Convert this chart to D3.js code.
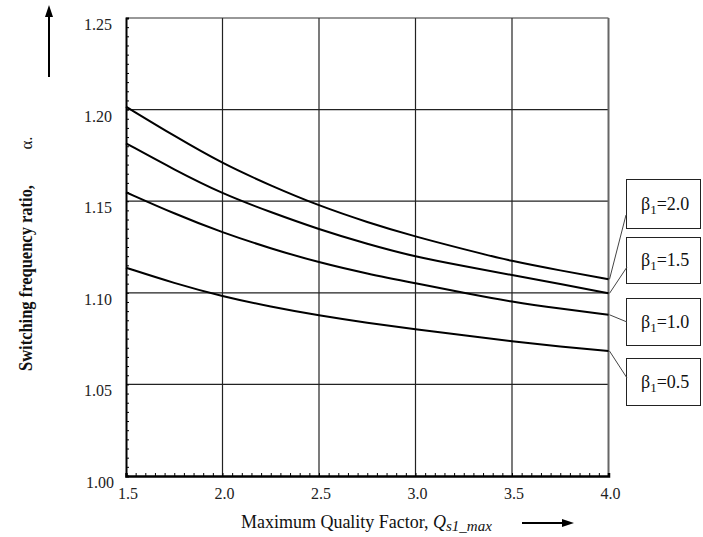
<!DOCTYPE html>
<html><head><meta charset="utf-8">
<script src="https://cdn.jsdelivr.net/npm/d3@7"></script>
<style>body{margin:0;background:#fff}svg{display:block}text{font-family:"Liberation Serif","Times New Roman",serif}</style>
</head><body>
<script>
const Q = [1.5,1.75,2.0,2.25,2.5,2.75,3.0,3.25,3.5,3.75,4.0];
const beta20 = [1.2016,1.1856,1.1705,1.1585,1.1475,1.1385,1.1306,1.1238,1.1172,1.1122,1.1074];
const beta15 = [1.1816,1.1672,1.1540,1.1440,1.1346,1.1266,1.1196,1.1146,1.1097,1.1048,1.0997];
const beta10 = [1.1549,1.1432,1.1328,1.1242,1.1165,1.1104,1.1052,1.1000,1.0950,1.0913,1.0880];
const beta05 = [1.1137,1.1052,1.0980,1.0924,1.0876,1.0836,1.0801,1.0768,1.0735,1.0707,1.0682];
const seriesLabels = ["2.0","1.5","1.0","0.5"];
const xTicks = [1.5,2.0,2.5,3.0,3.5,4.0];
const yTicks = [1.00,1.05,1.10,1.15,1.20,1.25];

const W=703,H=537;
const svg=d3.select("body").append("svg").attr("width",W).attr("height",H);
const x=d3.scaleLinear().domain([1.5,4.0]).range([126,608.5]);
const y=d3.scaleLinear().domain([1.0,1.25]).range([476,18]);

// grid
const g=svg.append("g");
g.selectAll(".gx").data(xTicks.slice(1,-1)).join("line")
 .attr("x1",d=>x(d)).attr("x2",d=>x(d)).attr("y1",y(1.25)).attr("y2",y(1.0))
 .attr("stroke","#222").attr("stroke-width",1.2);
g.selectAll(".gy").data(yTicks.slice(1,-1)).join("line")
 .attr("x1",x(1.5)).attr("x2",x(4.0)).attr("y1",d=>y(d)).attr("y2",d=>y(d))
 .attr("stroke","#222").attr("stroke-width",1.2);
// top border
svg.append("line").attr("x1",x(1.5)).attr("x2",x(4.0)).attr("y1",y(1.25)).attr("y2",y(1.25)).attr("stroke","#333").attr("stroke-width",1.2);
// right border
svg.append("line").attr("x1",x(4.0)).attr("x2",x(4.0)).attr("y1",y(1.25)).attr("y2",y(1.0)+1).attr("stroke","#666").attr("stroke-width",2);

// axes with minor inward ticks
const yAxis=d3.axisRight(y).tickValues(d3.range(1.0,1.2501,0.005)).tickSize(3).tickFormat("");
const ya=svg.append("g").attr("transform",`translate(${x(1.5)},0)`).call(yAxis);
ya.select(".domain").attr("stroke","#000").attr("stroke-width",2);
ya.selectAll(".tick line").attr("stroke","#000");
const xAxis=d3.axisTop(x).tickValues(d3.range(1.5,4.0001,0.05)).tickSize(3).tickFormat("");
const xa=svg.append("g").attr("transform",`translate(0,${y(1.0)})`).call(xAxis);
xa.select(".domain").attr("stroke","#000").attr("stroke-width",2.5);
xa.selectAll(".tick line").attr("stroke","#000");

// tick labels
svg.selectAll(".yl").data(yTicks).join("text")
 .attr("x",d=>d===1.0?114:112).attr("y",d=>y(d)+12).attr("text-anchor","end")
 .attr("font-size",16).attr("fill","#222").text(d=>d.toFixed(2));
svg.selectAll(".xl").data(xTicks).join("text")
 .attr("x",d=>x(d)+2).attr("y",499).attr("text-anchor","middle")
 .attr("font-size",16).attr("fill","#222").text(d=>d.toFixed(1));

// curves
const series=[beta20,beta15,beta10,beta05];
const line=d3.line().x((d,i)=>x(Q[i])).y(d=>y(d)).curve(d3.curveBasis);
svg.selectAll(".curve").data(series).join("path")
 .attr("d",line).attr("fill","none").attr("stroke","#000").attr("stroke-width",2);

// legend boxes
const boxes=[{y0:179,y1:228,ax:626,ay:215},{y0:237,y1:283,ax:627,ay:267},{y0:298,y1:345,ax:627,ay:322},{y0:358,y1:405,ax:627,ay:378}];
boxes.forEach((b,i)=>{
  svg.append("rect").attr("x",626.5).attr("y",b.y0+0.5).attr("width",74).attr("height",b.y1-b.y0)
   .attr("fill","#fff").attr("stroke","#222").attr("stroke-width",1);
  const s=series[i];
  svg.append("line").attr("x1",x(4.0)+1).attr("y1",y(s[s.length-1])).attr("x2",b.ax).attr("y2",b.ay)
   .attr("stroke","#444").attr("stroke-width",1);
  const t=svg.append("text").attr("x",641).attr("y",(b.y0+b.y1)/2+6).attr("font-size",18).attr("fill","#111");
  t.append("tspan").text("β");
  t.append("tspan").attr("font-size",13).attr("dy",4).text("1");
  t.append("tspan").attr("dy",-4).text("="+seriesLabels[i]);
});

// y label
svg.append("text").attr("transform","translate(32,278) rotate(-90)").attr("text-anchor","middle")
 .attr("font-size",18).attr("font-weight","bold").attr("fill","#111")
 .attr("textLength",186).attr("lengthAdjust","spacingAndGlyphs").text("Switching frequency ratio,");
svg.append("text").attr("transform","translate(32,143) rotate(-90)").attr("text-anchor","middle")
 .attr("font-size",17).attr("fill","#111").text("α.");
// y arrow
svg.append("line").attr("x1",49).attr("x2",49).attr("y1",77).attr("y2",14).attr("stroke","#000").attr("stroke-width",2);
svg.append("path").attr("d","M49,5 L45,17 L53,17 Z").attr("fill","#000");

// x label
const xl=svg.append("text").attr("x",241).attr("y",528).attr("font-size",18).attr("fill","#111");
xl.append("tspan").attr("textLength",192).attr("lengthAdjust","spacing").text("Maximum Quality Factor, ");
xl.append("tspan").attr("font-style","italic").text("Q");
xl.append("tspan").attr("font-style","italic").attr("font-size",15).attr("dy",3).text("s1_max");
// x arrow
svg.append("line").attr("x1",522).attr("x2",564).attr("y1",523).attr("y2",523).attr("stroke","#000").attr("stroke-width",2);
svg.append("path").attr("d","M574,523 L562,519 L562,527 Z").attr("fill","#000");
</script>
</body></html>
